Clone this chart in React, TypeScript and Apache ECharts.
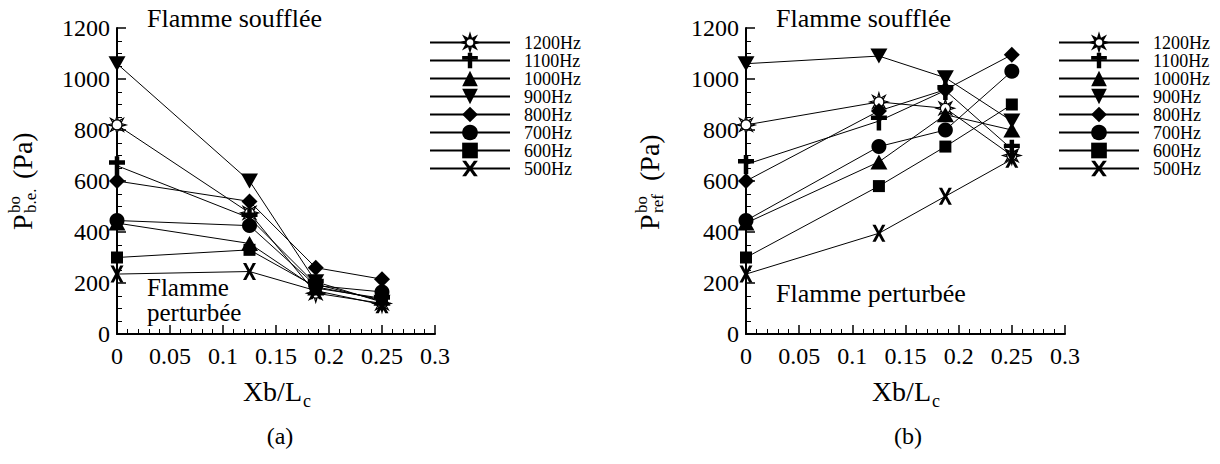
import React, { useEffect, useRef } from 'react';
import * as echarts from 'echarts';

// ---- data ----
const xPositions = [0, 0.125, 0.1875, 0.25];
const freqNames = ['1200Hz', '1100Hz', '1000Hz', '900Hz', '800Hz', '700Hz', '600Hz', '500Hz'];
const xTicks = [0, 0.05, 0.1, 0.15, 0.2, 0.25, 0.3];
const yTicks = [0, 200, 400, 600, 800, 1000, 1200];

// (a) P^bo_b.e.
const a1200 = [820, 475, 160, 120];
const a1100 = [660, 455, 195, 130];
const a1000 = [435, 355, 180, 140];
const a900 = [1060, 600, 205, 125];
const a800 = [600, 520, 260, 215];
const a700 = [445, 425, 190, 165];
const a600 = [300, 330, 185, 135];
const a500 = [235, 245, 170, 115];

// (b) P^bo_ref
const b1200 = [820, 910, 885, 700];
const b1100 = [665, 835, 955, 725];
const b1000 = [435, 675, 860, 800];
const b900 = [1060, 1090, 1005, 835];
const b800 = [600, 875, 958, 1095];
const b700 = [445, 735, 800, 1030];
const b600 = [300, 580, 735, 900];
const b500 = [235, 395, 540, 685];

const seriesA = [a1200, a1100, a1000, a900, a800, a700, a600, a500];
const seriesB = [b1200, b1100, b1000, b900, b800, b700, b600, b500];

const SERIF = 'Liberation Serif';

// ---- marker shapes ----
function sunPath(): string {
  const c = 10;
  let d = 'M15.5,10 A5.5,5.5 0 1 0 4.5,10 A5.5,5.5 0 1 0 15.5,10 Z ';
  for (let k = 0; k < 8; k++) {
    const t = (k * Math.PI) / 4;
    const cs = Math.cos(t), sn = Math.sin(t);
    const tip = [c + 10 * cs, c + 10 * sn];
    const b1 = [c + 5.6 * cs - 1.3 * sn, c + 5.6 * sn + 1.3 * cs];
    const b2 = [c + 5.6 * cs + 1.3 * sn, c + 5.6 * sn - 1.3 * cs];
    d += `M${b1[0].toFixed(2)},${b1[1].toFixed(2)} L${tip[0].toFixed(2)},${tip[1].toFixed(2)} L${b2[0].toFixed(2)},${b2[1].toFixed(2)} Z `;
  }
  return 'path://' + d;
}
const crossPath = 'path://M5.75,0 L10.25,0 L10.25,4 L16,4 L16,8.5 L10.25,8.5 L10.25,19 L5.75,19 L5.75,8.5 L0,8.5 L0,4 L5.75,4 Z';
const xPath = 'path://M0,0 L4,0 L8,6.5 L12,0 L16,0 L10.3,9 L16,18 L12,18 L8,11.5 L4,18 L0,18 L5.7,9 Z';

const markerStyles: Record<string, any> = {
  '1200Hz': { symbol: sunPath(), symbolSize: 18, fill: '#fff', border: 1.2 },
  '1100Hz': { symbol: crossPath, symbolSize: [16, 19], fill: '#000', border: 0 },
  '1000Hz': { symbol: 'triangle', symbolSize: [17, 15], fill: '#000', border: 0 },
  '900Hz': { symbol: 'triangle', symbolSize: [17, 15], rotate: 180, fill: '#000', border: 0 },
  '800Hz': { symbol: 'diamond', symbolSize: [16, 16], fill: '#000', border: 0 },
  '700Hz': { symbol: 'circle', symbolSize: 15, fill: '#000', border: 0 },
  '600Hz': { symbol: 'rect', symbolSize: 12, fill: '#000', border: 0 },
  '500Hz': { symbol: xPath, symbolSize: [13, 17], fill: '#000', border: 0 },
};

function makeSeries(values: number[][], gridIndex: number) {
  return values.map((arr, i) => {
    const name = freqNames[i];
    const m = markerStyles[name];
    return {
      type: 'line',
      name,
      xAxisIndex: gridIndex,
      yAxisIndex: gridIndex,
      data: xPositions.map((x, j) => [x, arr[j]]),
      symbol: m.symbol,
      symbolSize: m.symbolSize,
      symbolRotate: m.rotate || 0,
      showSymbol: true,
      lineStyle: { color: '#000', width: 1 },
      itemStyle: { color: m.fill, borderColor: '#000', borderWidth: m.border, opacity: 1 },
      emphasis: { disabled: true },
      silent: true,
      z: 3,
    };
  });
}

function makeXAxis(gridIndex: number) {
  return {
    type: 'value',
    gridIndex,
    min: xTicks[0],
    max: xTicks[xTicks.length - 1],
    interval: 0.05,
    axisLine: { show: true, onZero: false, lineStyle: { color: '#000', width: 2 } },
    axisTick: { show: true, inside: true, length: 9, lineStyle: { color: '#000', width: 1.5 } },
    minorTick: { show: true, splitNumber: 5, length: 5, lineStyle: { color: '#000', width: 1 } },
    splitLine: { show: false },
    minorSplitLine: { show: false },
    axisLabel: {
      color: '#000', fontSize: 24, fontFamily: SERIF, margin: 10,
      formatter: (v: number) => String(Math.round(v * 100) / 100),
    },
  };
}

function makeYAxis(gridIndex: number) {
  return {
    type: 'value',
    gridIndex,
    min: yTicks[0],
    max: yTicks[yTicks.length - 1],
    interval: 200,
    axisLine: { show: true, onZero: false, lineStyle: { color: '#000', width: 2 } },
    axisTick: { show: true, inside: true, length: 9, lineStyle: { color: '#000', width: 1.5 } },
    minorTick: { show: true, splitNumber: 4, length: 5, lineStyle: { color: '#000', width: 1 } },
    splitLine: { show: false },
    minorSplitLine: { show: false },
    axisLabel: {
      color: '#000', fontSize: 24, fontFamily: SERIF, margin: 7,
      formatter: (v: number) => String(v),
    },
  };
}

function makeLegend(left: number) {
  return {
    orient: 'vertical',
    left,
    top: 33.5,
    padding: 0,
    itemWidth: 80,
    itemHeight: 19.6,
    itemGap: 0,
    selectedMode: false,
    data: freqNames,
    textStyle: { color: '#000', fontSize: 18, fontFamily: SERIF, lineHeight: 18, padding: [0, 0, 0, 9] },
  };
}

function txt(text: string, x: number, y: number, size: number, align = 'left', lineHeight?: number) {
  return {
    type: 'text',
    x,
    y,
    silent: true,
    style: {
      text,
      fontSize: size,
      fontFamily: SERIF,
      lineHeight: lineHeight || size,
      fill: '#000',
      align,
      textAlign: align,
      verticalAlign: 'middle',
      textVerticalAlign: 'middle',
    },
  };
}

function yTitle(x: number, sub: string) {
  return {
    type: 'group',
    x,
    y: 230,
    rotation: Math.PI / 2,
    children: [
      txt('P', 0, 0, 28),
      txt('bo', 17, -8, 17),
      txt(sub, 17, 8, 17),
      txt('(Pa)', sub === 'ref' ? 49 : 51, 0, 28),
    ],
  };
}

function xTitle(cx: number) {
  return [txt('Xb/L', cx + 26, 391, 28, 'right'), txt('c', cx + 27, 401, 18, 'left')];
}

export default function App() {
  const ref = useRef<HTMLDivElement>(null);
  useEffect(() => {
    if (!ref.current) return;
    const chart = echarts.init(ref.current, undefined, { renderer: 'svg' });
    chart.setOption({
      animation: false,
      backgroundColor: '#fff',
      textStyle: { fontFamily: SERIF },
      grid: [
        { left: 117, top: 28, width: 318, height: 306 },
        { left: 746, top: 28, width: 319, height: 306 },
      ],
      xAxis: [makeXAxis(0), makeXAxis(1)],
      yAxis: [makeYAxis(0), makeYAxis(1)],
      legend: [makeLegend(429), makeLegend(1058)],
      series: [...makeSeries(seriesA, 0), ...makeSeries(seriesB, 1)],
      graphic: [
        txt('Flamme soufflée', 147, 18, 26),
        txt('Flamme soufflée', 776, 18, 26),
        txt('Flamme', 147, 287, 25),
        txt('perturbée', 147, 312, 25),
        txt('Flamme perturbée', 776, 293, 26),
        yTitle(22, 'b.e.'),
        yTitle(649, 'ref'),
        ...xTitle(276),
        ...xTitle(905),
        txt('(a)', 280, 436, 24, 'center'),
        txt('(b)', 908, 436, 24, 'center'),
      ],
    });
    return () => chart.dispose();
  }, []);
  return (
    <div
      ref={ref}
      style={{ position: 'absolute', left: 0, top: 0, width: 1220, height: 464 }}
    />
  );
}
